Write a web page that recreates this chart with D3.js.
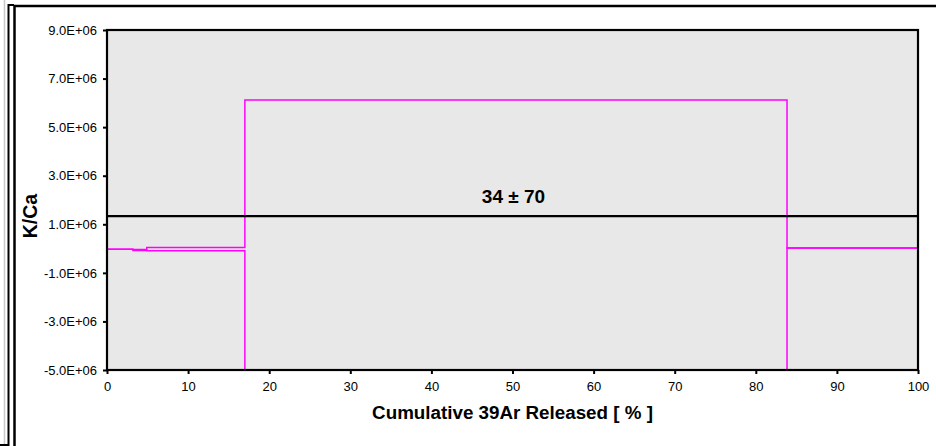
<!DOCTYPE html>
<html>
<head>
<meta charset="utf-8">
<script src="https://cdn.jsdelivr.net/npm/d3@7"></script>
<style>
  html, body { margin: 0; padding: 0; background: #fff; }
  svg { display: block; font-family: "Liberation Sans", Arial, sans-serif; }
</style>
</head>
<body>
<svg id="chart" width="936" height="446"></svg>
<script>
// Step boundaries (cumulative % of 39Ar released) and K/Ca envelope per step
const stepEdges = [0, 3.2, 4.9, 17.0, 83.85, 100];
const stepUpper = [-0.03e6, -0.04e6, 0.045e6, 6.12e6, 0.025e6];
const stepLower = [-0.03e6, -0.08e6, -0.09e6, -5.6e6, 0.025e6];

// Weighted mean line and its label
const meanValue = 1.34e6;
const meanLabel = "34 ± 70";

// Axis ticks
const xTickValues = [0, 10, 20, 30, 40, 50, 60, 70, 80, 90, 100];
const xTickLabels = ["0", "10", "20", "30", "40", "50", "60", "70", "80", "90", "100"];
const yTickValues = [9e6, 7e6, 5e6, 3e6, 1e6, -1e6, -3e6, -5e6];
const yTickLabels = ["9.0E+06", "7.0E+06", "5.0E+06", "3.0E+06", "1.0E+06", "-1.0E+06", "-3.0E+06", "-5.0E+06"];

const xTitle = "Cumulative 39Ar Released [ % ]";
const yTitle = "K/Ca";

const svg = d3.select("#chart");
const W = 936, H = 446;
const plot = { left: 107, top: 30, right: 918, bottom: 370 };

// Outer frame lines
svg.append("line").attr("x1", 4.5).attr("x2", 4.5).attr("y1", 0).attr("y2", H)
  .attr("stroke", "#c8c8c8").attr("stroke-width", 1.5);
svg.append("path").attr("d", `M0,${H - 1} H8.5 V5 H14`).attr("fill", "none")
  .attr("stroke", "#000").attr("stroke-width", 2);
svg.append("path").attr("d", `M14.5,${H} V6 H${W}`).attr("fill", "none")
  .attr("stroke", "#000").attr("stroke-width", 2.5);

const x = d3.scaleLinear().domain([0, 100]).range([plot.left, plot.right]);
const y = d3.scaleLinear().domain([-5e6, 9e6]).range([plot.bottom, plot.top]);

// Plot area
svg.append("rect")
  .attr("x", plot.left).attr("y", plot.top)
  .attr("width", plot.right - plot.left).attr("height", plot.bottom - plot.top)
  .attr("fill", "#e8e8e8");

svg.append("clipPath").attr("id", "plotClip").append("rect")
  .attr("x", plot.left).attr("y", plot.top)
  .attr("width", plot.right - plot.left).attr("height", plot.bottom - plot.top);

// Step spectrum: upper and lower envelopes drawn as step lines
const stepPoints = vals => {
  const pts = vals.map((v, i) => [stepEdges[i], v]);
  pts.push([stepEdges[stepEdges.length - 1], vals[vals.length - 1]]);
  return pts;
};
const stepLine = d3.line().x(d => x(d[0])).y(d => y(d[1])).curve(d3.curveStepAfter);
const spectrum = svg.append("g").attr("clip-path", "url(#plotClip)");
[stepUpper, stepLower].forEach(vals => {
  spectrum.append("path")
    .attr("d", stepLine(stepPoints(vals)))
    .attr("fill", "none")
    .attr("stroke", "#ff00ff")
    .attr("stroke-width", 1.5);
});

// Mean line
svg.append("line")
  .attr("x1", x(0)).attr("x2", x(100))
  .attr("y1", y(meanValue)).attr("y2", y(meanValue))
  .attr("stroke", "#000").attr("stroke-width", 2.2);

svg.append("text")
  .attr("x", x(50) + 1).attr("y", y(meanValue) - 13)
  .attr("text-anchor", "middle")
  .attr("font-size", 19).attr("font-weight", "bold")
  .text(meanLabel);

// Plot border
svg.append("rect")
  .attr("x", plot.left).attr("y", plot.top)
  .attr("width", plot.right - plot.left).attr("height", plot.bottom - plot.top)
  .attr("fill", "none").attr("stroke", "#000").attr("stroke-width", 2.2);

// Axes
const yAxis = d3.axisLeft(y).tickValues(yTickValues)
  .tickFormat((d, i) => yTickLabels[i]).tickSize(4).tickPadding(6);
const xAxis = d3.axisBottom(x).tickValues(xTickValues)
  .tickFormat((d, i) => xTickLabels[i]).tickSize(4).tickPadding(8);

const gy = svg.append("g").attr("transform", `translate(${plot.left},0)`).call(yAxis);
const gx = svg.append("g").attr("transform", `translate(0,${plot.bottom})`).call(xAxis);
[gx, gy].forEach(g => {
  g.select(".domain").remove();
  g.selectAll(".tick line").attr("stroke", "#000").attr("stroke-width", 2);
  g.selectAll(".tick text").attr("fill", "#000")
    .attr("font-family", "'Liberation Sans', Arial, sans-serif");
});
gy.selectAll(".tick text").attr("font-size", 13);
gx.selectAll(".tick text").attr("font-size", 13);

// Axis titles
svg.append("text")
  .attr("x", (plot.left + plot.right) / 2).attr("y", 419)
  .attr("text-anchor", "middle")
  .attr("font-size", 18.8).attr("font-weight", "bold")
  .text(xTitle);

svg.append("text")
  .attr("transform", `translate(37,${(plot.top + plot.bottom) / 2 + 16}) rotate(-90)`)
  .attr("text-anchor", "middle")
  .attr("font-size", 19.5).attr("font-weight", "bold")
  .text(yTitle);
</script>
</body>
</html>
